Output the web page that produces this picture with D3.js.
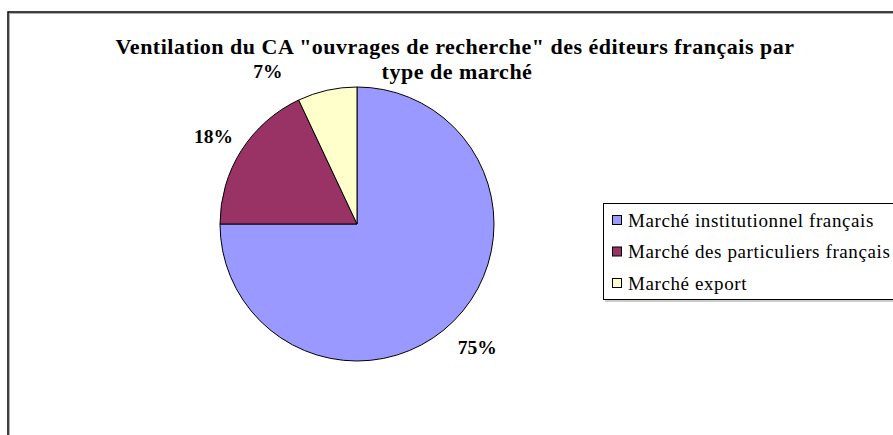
<!DOCTYPE html>
<html><head><meta charset="utf-8">
<script src="https://cdn.jsdelivr.net/npm/d3@7"></script>
<style>body{margin:0;background:#fff}svg{display:block}
text{font-family:"Liberation Serif","Times New Roman",serif}</style>
</head><body>
<svg id="c" width="893" height="435"></svg>
<script>
const categories = ["Marché institutionnel français", "Marché des particuliers français", "Marché export"];
const values = [75, 18, 7];
const labels = ["75%", "18%", "7%"];
const colors = ["#9999FF", "#993366", "#FFFFCC"];
const titleLines = ["Ventilation du CA \"ouvrages de recherche\" des éditeurs français par", "type de marché"];

const svg = d3.select("#c");
// outer frame
svg.append("rect").attr("x", 9.5).attr("y", 13.5).attr("width", 1000).attr("height", 600)
  .attr("fill", "none").attr("stroke", "#aaa").attr("stroke-width", 1);
svg.append("rect").attr("x", 8).attr("y", 12).attr("width", 1000).attr("height", 600)
  .attr("fill", "none").attr("stroke", "#000").attr("stroke-width", 1.5);

// title
const title = svg.append("text").attr("text-anchor", "middle")
  .attr("font-weight", "bold").attr("font-size", 22).attr("letter-spacing", 0.5);
title.append("tspan").attr("x", 455).attr("y", 54).text(titleLines[0]);
title.append("tspan").attr("x", 457).attr("y", 79).text(titleLines[1]);

// pie
const cx = 357, cy = 224, r = 137;
const pie = d3.pie().sort(null).value(d => d)(values);
const arc = d3.arc().innerRadius(0).outerRadius(r);
const g = svg.append("g").attr("transform", `translate(${cx},${cy})`);
g.selectAll("path").data(pie).join("path")
  .attr("d", arc).attr("fill", (d, i) => colors[i])
  .attr("stroke", "#000").attr("stroke-width", 1);

const labelArc = d3.arc().innerRadius(r + 33).outerRadius(r + 33);
g.selectAll("text").data(pie).join("text")
  .attr("transform", d => {
    let [x, y] = labelArc.centroid(d);
    // slide labels that would hit the title to the left (as the original does)
    if (y < -150) { x -= 52; y += 10; }
    return `translate(${x},${y + 3})`;
  })
  .attr("text-anchor", "middle").attr("dy", "0.35em")
  .attr("font-weight", "bold").attr("font-size", 19.5)
  .text((d, i) => labels[i]);

// legend
const lg = svg.append("g");
lg.append("rect").attr("x", 603.5).attr("y", 203.5).attr("width", 400).attr("height", 96)
  .attr("fill", "#fff").attr("stroke", "#000").attr("stroke-width", 1);
lg.append("line").attr("x1", 605).attr("x2", 1000).attr("y1", 301).attr("y2", 301).attr("stroke", "#999");
const rowY = d3.scalePoint().domain(categories).range([220, 283]);
categories.forEach((c, i) => {
  lg.append("rect").attr("x", 612.5).attr("y", rowY(c) - 4.5).attr("width", 9).attr("height", 9)
    .attr("fill", colors[i]).attr("stroke", "#000").attr("stroke-width", 1);
  lg.append("text").attr("x", 628).attr("y", rowY(c)).attr("dy", "0.35em")
    .attr("font-size", 19).attr("letter-spacing", 0.6)
    .text(c);
});
</script>
</body></html>
